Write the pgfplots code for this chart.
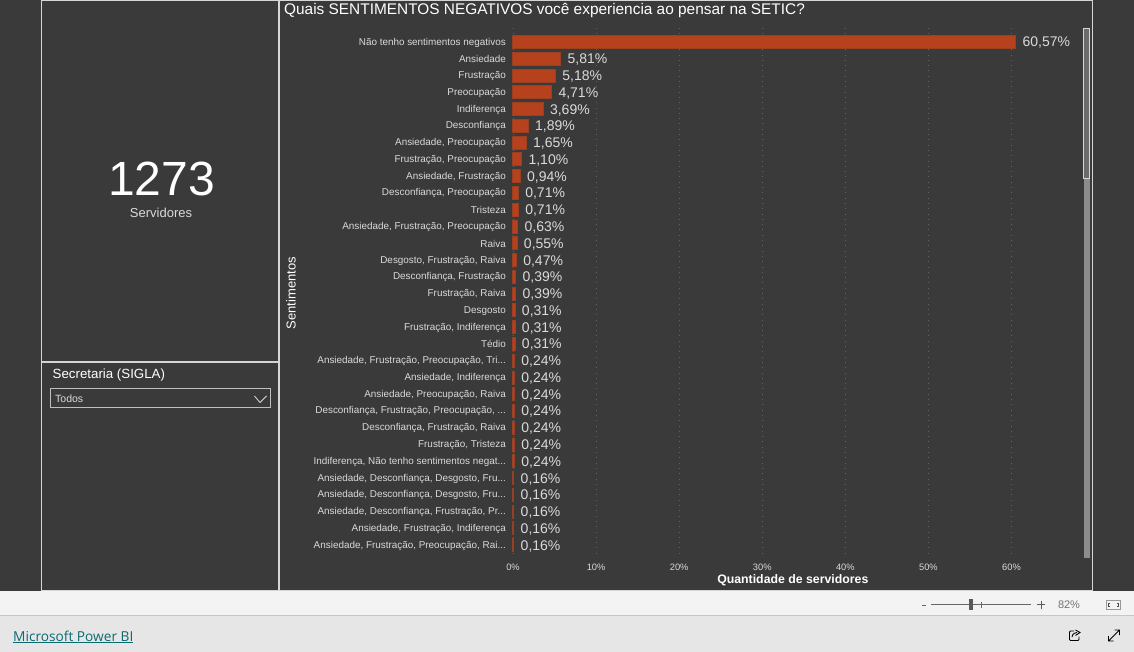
\documentclass[border=0pt]{standalone}
\usepackage{fontspec}
\setmainfont{Liberation Sans}
\newfontfamily\linkfont{Open Sans}
\usepackage{pgfplots}
\usepackage{pgfplotstable}
\pgfplotsset{compat=1.18}
\definecolor{panel}{HTML}{3A3A3A}
\definecolor{barfill}{HTML}{B5421C}
\definecolor{baredge}{HTML}{9A3F22}
\definecolor{lbl}{HTML}{DADADA}
\definecolor{gridc}{HTML}{626262}
\definecolor{frame}{HTML}{D6D6D6}
\definecolor{barlight}{HTML}{F3F3F3}
\definecolor{bardark}{HTML}{E6E6E6}
\definecolor{linkc}{HTML}{0B6A70}

\pgfplotstableread[col sep=semicolon]{
idx;val;label
0;60.57;Não tenho sentimentos negativos
1;5.81;Ansiedade
2;5.18;Frustração
3;4.71;Preocupação
4;3.69;Indiferença
5;1.89;Desconfiança
6;1.65;Ansiedade, Preocupação
7;1.10;Frustração, Preocupação
8;0.94;Ansiedade, Frustração
9;0.71;Desconfiança, Preocupação
10;0.71;Tristeza
11;0.63;Ansiedade, Frustração, Preocupação
12;0.55;Raiva
13;0.47;Desgosto, Frustração, Raiva
14;0.39;Desconfiança, Frustração
15;0.39;Frustração, Raiva
16;0.31;Desgosto
17;0.31;Frustração, Indiferença
18;0.31;Tédio
19;0.24;Ansiedade, Frustração, Preocupação, Tri...
20;0.24;Ansiedade, Indiferença
21;0.24;Ansiedade, Preocupação, Raiva
22;0.24;Desconfiança, Frustração, Preocupação, ...
23;0.24;Desconfiança, Frustração, Raiva
24;0.24;Frustração, Tristeza
25;0.24;Indiferença, Não tenho sentimentos negat...
26;0.16;Ansiedade, Desconfiança, Desgosto, Fru...
27;0.16;Ansiedade, Desconfiança, Desgosto, Fru...
28;0.16;Ansiedade, Desconfiança, Frustração, Pr...
29;0.16;Ansiedade, Frustração, Indiferença
30;0.16;Ansiedade, Frustração, Preocupação, Rai...
}\sentimentos

\begin{document}
\begin{tikzpicture}[x=1pt,y=-1pt]
\useasboundingbox (0,0) rectangle (1134,652);
% page and panels
\fill[panel] (0,0) rectangle (1134,591);
\fill[barlight] (0,591) rectangle (1134,615);
\fill[bardark] (0,615) rectangle (1134,652);
\draw[black!22,line width=1pt] (0,615.5) -- (1134,615.5);
\draw[frame,line width=1pt] (41.5,0.5) rectangle (278.5,590.5);
\draw[frame,line width=1pt] (279.5,0.5) rectangle (1092.5,590.5);
\draw[frame,line width=2pt] (42,362) -- (278,362);

% card
\node[text=white,font=\fontsize{48}{48}\selectfont] at (161.5,179) {1273};
\node[text=lbl,font=\fontsize{13}{15}\selectfont] at (161,212.5) {Servidores};

% slicer
\node[anchor=west,inner sep=0pt,text=white,font=\fontsize{13.3}{15}\selectfont] at (52.5,375) {Secretaria (SIGLA)};
\draw[black!25,line width=1pt] (50.5,388) rectangle (270.5,407);
\node[anchor=west,inner sep=0pt,text=lbl,font=\fontsize{10.5}{12}\selectfont] at (55,399) {Todos};
\draw[lbl,line width=0.8pt] (254.5,396) -- (260,402.5) -- (266.5,396);

% title
\node[anchor=west,inner sep=0pt,text=white,font=\fontsize{15.4}{17}\selectfont] at (284,10) {Quais SENTIMENTOS NEGATIVOS você experiencia ao pensar na SETIC?};

\begin{axis}[
    at={(513pt,-28pt)}, anchor=north west,
    scale only axis,
    width=567pt, height=529pt,
    xbar, bar width=13pt,
    xmin=0, xmax=68.25,
    ymin=-0.835, ymax=30.71,
    y dir=reverse,
    clip=false,
    axis line style={draw=none},
    major tick length=0pt,
    tick style={draw=none},
    xmajorgrids=true,
    grid style={gridc,dash pattern=on 0.8pt off 4.5pt,line width=0.8pt},
    xtick={0,10,20,30,40,50,60},
    xticklabels={0\%,10\%,20\%,30\%,40\%,50\%,60\%},
    ytick=data,
    yticklabels from table={\sentimentos}{label},
    x tick label style={text=lbl,font=\fontsize{9.3}{11}\selectfont,inner sep=0pt,yshift=-7pt},
    y tick label style={text=lbl,font=\fontsize{9.9}{11}\selectfont,anchor=east,inner sep=0pt,xshift=-7pt,yshift=-0.5pt},
    xlabel={Quantidade de servidores},
    xlabel style={at={(axis description cs:0.4935,-0.0445)},anchor=center,inner sep=0pt,text=white,font=\bfseries\fontsize{12.3}{14}\selectfont},
    ylabel={Sentimentos},
    ylabel style={at={(axis description cs:-0.3915,0.499)},anchor=center,inner sep=0pt,text=white,font=\fontsize{13}{15}\selectfont},
    nodes near coords={\pgfmathprintnumber[fixed,fixed zerofill,precision=2,use comma,assume math mode=true]{\pgfplotspointmeta}\%},
    nodes near coords style={anchor=west,inner sep=0pt,xshift=6.5pt,yshift=-1pt,text=lbl,font=\fontsize{14}{16}\selectfont},
    point meta=x,
]
\addplot[fill=barfill,draw=baredge,line width=0.8pt,xshift=-0.5pt] table[x=val,y=idx]{\sentimentos};
\end{axis}

% scrollbar
\fill[black!45] (1083.5,28) rectangle (1089.5,558);
\draw[frame,fill=black!58,line width=0.8pt] (1083.5,28.5) rectangle (1089.5,178);

% zoom bar
\draw[black!60,line width=1pt] (922,605) -- (926,605);
\draw[black!60,line width=0.8pt] (931,604.5) -- (1031,604.5);
\fill[black!65] (969,599) rectangle (973,610);
\draw[black!60,line width=0.7pt] (981.5,601.5) -- (981.5,607.5);
\draw[black!65,line width=1pt] (1037,604.5) -- (1045,604.5) (1041,600.5) -- (1041,608.5);
\node[text=black!55,font=\fontsize{11}{13}\selectfont] at (1069,604.5) {82\%};
\draw[black!40,line width=1pt] (1106.5,600.5) rectangle (1120.5,609.5);
\draw[black!70,line width=0.8pt] (1110,603.5) -- (1108.5,603.5) -- (1108.5,606.5) -- (1110,606.5)
    (1117,603.5) -- (1118.5,603.5) -- (1118.5,606.5) -- (1117,606.5);

% footer
\node[anchor=west,inner sep=0pt,text=linkc,font=\linkfont\fontsize{13.7}{16}\selectfont] (lk) at (13,636) {Microsoft Power BI};
\draw[linkc,line width=1pt] (13,642.5) -- (133,642.5);
\draw[black,line width=0.9pt,rounded corners=1pt] (1074,631) -- (1069.5,631) -- (1069.5,640.5) -- (1079,640.5) -- (1079,636.5);
\draw[black,line width=0.9pt] (1072,637) .. controls (1072.5,633.5) and (1075,632.5) .. (1077,632.5) (1075.5,630) -- (1080,632.5) -- (1075.5,635.5);
\draw[black,line width=0.9pt] (1108.5,641) -- (1119.5,630) (1114.5,630) -- (1119.5,630) -- (1119.5,635) (1108.5,636) -- (1108.5,641) -- (1113.5,641);
\end{tikzpicture}
\end{document}
